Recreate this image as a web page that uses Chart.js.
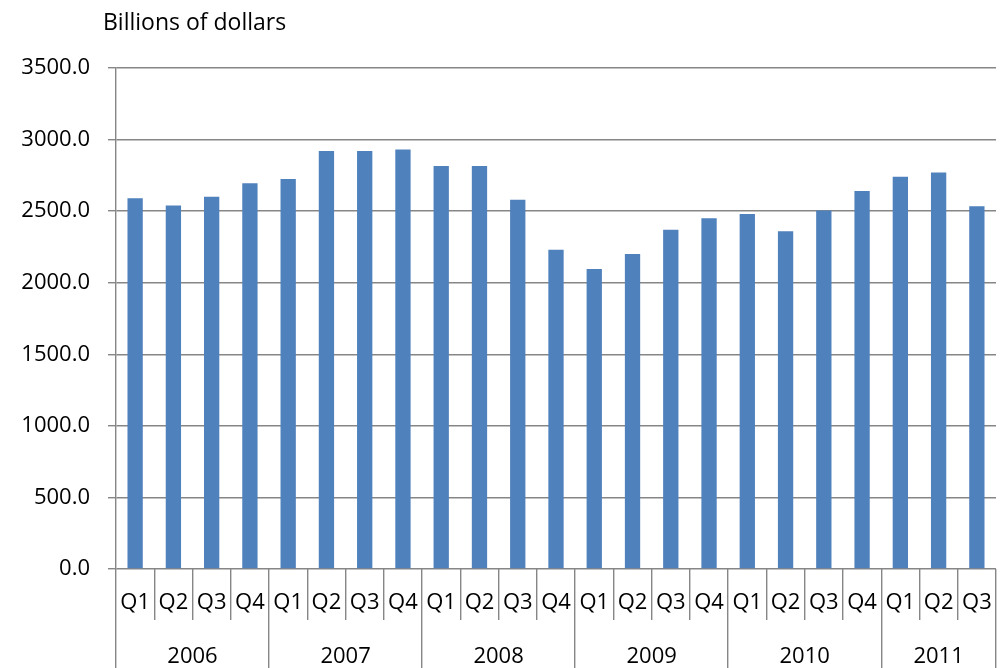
<!DOCTYPE html>
<html>
<head>
<meta charset="utf-8">
<script src="https://cdn.jsdelivr.net/npm/chart.js@4.4.0/dist/chart.umd.min.js"></script>
<style>
  body { margin: 0; background: #fff; }
  #wrap { width: 1000px; height: 668px; }
</style>
</head>
<body>
<div id="wrap"><canvas id="chart" width="1000" height="668"></canvas></div>
<script>
// quarters along the bottom, years grouped under them
const quarters = ["Q1","Q2","Q3","Q4","Q1","Q2","Q3","Q4","Q1","Q2","Q3","Q4",
                  "Q1","Q2","Q3","Q4","Q1","Q2","Q3","Q4","Q1","Q2","Q3"];
const years = ["2006","2007","2008","2009","2010","2011"];
const quartersPerYear = [4, 4, 4, 4, 4, 3];
const values = [2590, 2540, 2600, 2695, 2725, 2920, 2920, 2930, 2815, 2815, 2580, 2230,
                2095, 2200, 2370, 2450, 2480, 2360, 2505, 2640, 2740, 2770, 2535];
const yTicks = [0, 500, 1000, 1500, 2000, 2500, 3000, 3500];

const FONT = "'Open Sans', 'Liberation Sans', sans-serif";
const GRID = "#868686";

// year boundaries and centres on an index scale (-0.5 .. n-0.5)
const bounds = [-0.5];
const mids = {};
quartersPerYear.forEach((n, i) => {
    const start = bounds[bounds.length - 1];
    mids[start + n / 2] = years[i];
    bounds.push(start + n);
});
const yearTickValues = bounds.concat(Object.keys(mids).map(Number)).sort((a, b) => a - b);

// axis caption at top left
const captionPlugin = {
    id: "caption",
    afterDraw(chart) {
        const c = chart.ctx;
        c.save();
        c.font = "23px " + FONT;
        c.fillStyle = "#000";
        c.textBaseline = "alphabetic";
        c.fillText("Billions of dollars", 103, 30);
        c.restore();
    }
};

new Chart(document.getElementById("chart"), {
    type: "bar",
    data: {
        labels: quarters,
        datasets: [{
            data: values,
            backgroundColor: "#4F81BD",
            borderWidth: 0,
            barPercentage: 0.4,
            categoryPercentage: 1
        }]
    },
    options: {
        responsive: false,
        animation: false,
        layout: { padding: { top: 68, right: 4, left: 0, bottom: 0 } },
        plugins: { legend: { display: false }, tooltip: { enabled: false } },
        scales: {
            y: {
                min: 0, max: 3500,
                afterBuildTicks: s => { s.ticks = yTicks.map(v => ({ value: v })); },
                afterFit: s => { s.width = 116; },
                ticks: {
                    color: "#000",
                    font: { family: FONT, size: 22 },
                    padding: 18,
                    callback: v => Number(v).toFixed(1)
                },
                grid: { color: GRID, lineWidth: 1.4, tickLength: 8 },
                border: { color: GRID, width: 1.4 }
            },
            x: {
                position: "bottom",
                afterFit: s => { s.height = 51; },
                ticks: {
                    color: "#000",
                    font: { family: FONT, size: 22 },
                    padding: -30,
                    autoSkip: false,
                    maxRotation: 0
                },
                grid: { offset: true, drawOnChartArea: false, tickLength: 51, color: GRID, lineWidth: 1.4 },
                border: { display: false }
            },
            years: {
                type: "linear",
                position: "bottom",
                offset: false,
                min: -0.5, max: quarters.length - 0.5,
                afterBuildTicks: s => { s.ticks = yearTickValues.map(v => ({ value: v })); },
                afterFit: s => { s.height = 48; },
                ticks: {
                    color: "#000",
                    font: { family: FONT, size: 22 },
                    padding: -24,
                    autoSkip: false,
                    maxRotation: 0,
                    callback: v => mids[v] || ""
                },
                grid: {
                    offset: false,
                    drawOnChartArea: false,
                    tickLength: 48,
                    lineWidth: 1.4,
                    color: c => (c.tick && bounds.includes(c.tick.value)) ? GRID : "rgba(0,0,0,0)"
                },
                border: { display: false }
            }
        }
    },
    plugins: [captionPlugin]
});
</script>
</body>
</html>
